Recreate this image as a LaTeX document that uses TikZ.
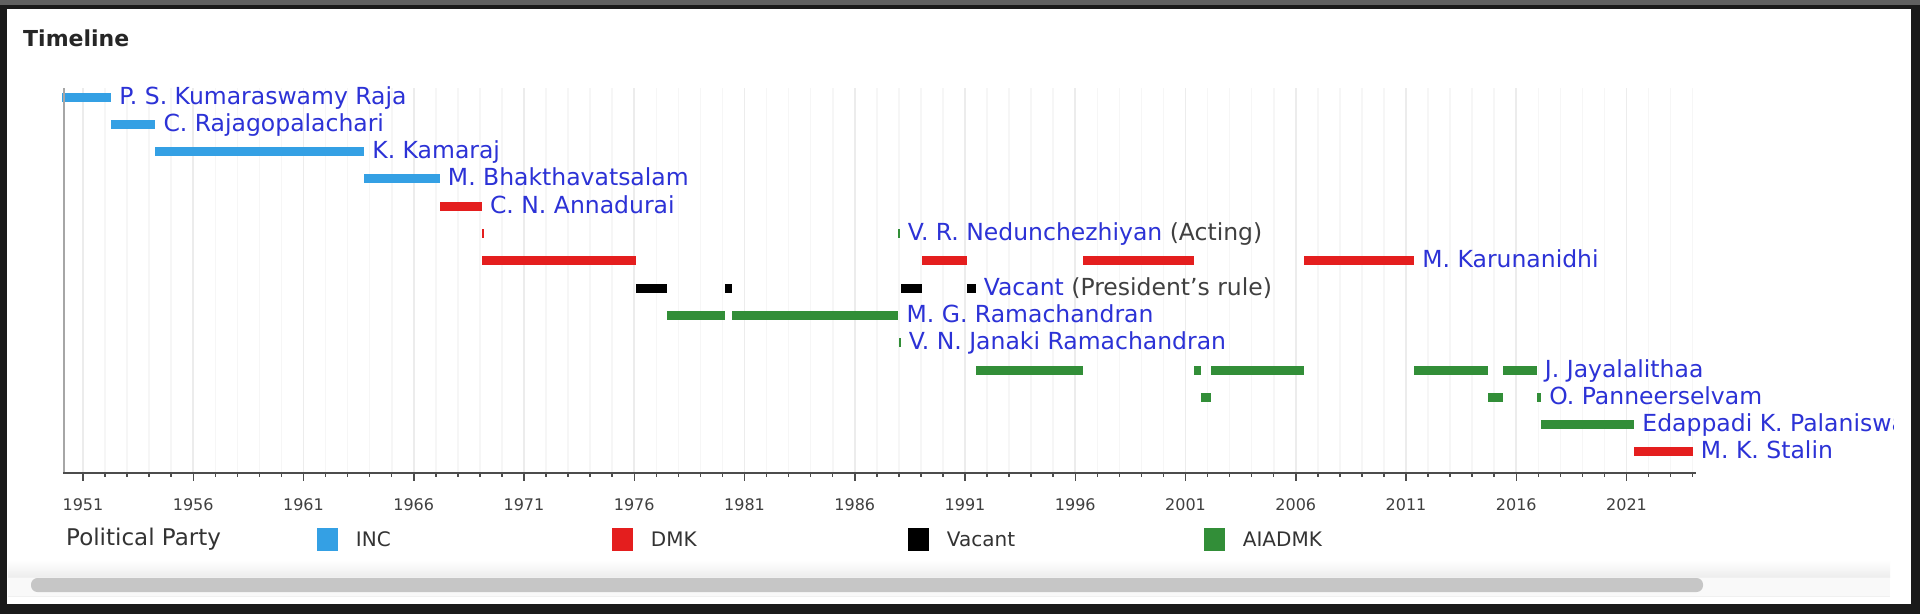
\documentclass[tikz,border=0pt]{standalone}
\usepackage{fontspec}
\setmainfont{DejaVu Sans}
\usetikzlibrary{positioning}
\definecolor{IncBlue}{RGB}{52,160,228}
\definecolor{DmkRed}{RGB}{228,30,30}
\definecolor{AdmkGreen}{RGB}{50,142,56}
\definecolor{NameBlue}{RGB}{44,50,214}
\definecolor{NoteGray}{RGB}{64,64,64}
\definecolor{FrameDark}{RGB}{26,26,26}

% year -> x, row -> y (picture units are pixels, y pointing down)
\newcommand{\yrx}[1]{83+22.05*(#1-1951)}
\newcommand{\rowy}[1]{97+27.3*(#1-1)}

\tikzset{
  name label/.style={anchor=base west, inner sep=0pt, text=NameBlue, font=\fontsize{23.5}{26}\selectfont},
  year label/.style={inner sep=0pt, text=black!75, font=\fontsize{16}{18}\selectfont},
  legend box/.style={minimum width=21pt, minimum height=23pt, inner sep=0pt},
  legend text/.style={inner sep=0pt, text=black!80, font=\fontsize{20}{22}\selectfont},
  minor grid/.style={line width=1.6pt, gray!7},
  major grid/.style={line width=1.6pt, gray!15},
}

\begin{document}
\begin{tikzpicture}[x=1pt, y=-1pt]
	\useasboundingbox (0,0) rectangle (1920,614);
	% frame and panel
	\fill[FrameDark] (0,0) rectangle (1920,614);
	\fill[gray!75!black] (0,0) rectangle (1920,5);
	\fill[white] (7,9) rectangle (1911,604);
	\node[anchor=west, inner sep=0pt, text=black!85, font=\bfseries\fontsize{22}{24}\selectfont] (title) at (23,38) {Timeline};

	% grid
	\foreach \yr in {1951,...,2024}
		\draw[minor grid] ({\yrx{\yr}},88) -- ({\yrx{\yr}},473);
	\foreach \yr in {1951,1956,...,2021}
		\draw[major grid] ({\yrx{\yr}},88) -- ({\yrx{\yr}},473);

	% reigns: row/start/end/party
	\foreach \r/\s/\e/\c in {
		1/1950.07/1952.28/IncBlue, 2/1952.28/1954.28/IncBlue, 3/1954.28/1963.75/IncBlue,
		4/1963.75/1967.18/IncBlue, 5/1967.18/1969.09/DmkRed,
		6/1969.09/1969.19/DmkRed, 6/1987.97/1988.04/AdmkGreen,
		7/1969.09/1976.08/DmkRed, 7/1989.07/1991.08/DmkRed, 7/1996.37/2001.37/DmkRed, 7/2006.37/2011.37/DmkRed,
		8/1976.08/1977.50/black, 8/1980.13/1980.44/black, 8/1988.08/1989.07/black, 8/1991.08/1991.48/black,
		9/1977.50/1980.13/AdmkGreen, 9/1980.44/1987.98/AdmkGreen,
		10/1988.02/1988.08/AdmkGreen,
		11/1991.48/1996.37/AdmkGreen, 11/2001.37/2001.72/AdmkGreen, 11/2002.17/2006.37/AdmkGreen,
		11/2011.37/2014.74/AdmkGreen, 11/2015.39/2016.93/AdmkGreen,
		12/2001.72/2002.17/AdmkGreen, 12/2014.74/2015.39/AdmkGreen, 12/2016.93/2017.13/AdmkGreen,
		13/2017.13/2021.35/AdmkGreen, 14/2021.35/2024.00/DmkRed}
		\fill[\c] ({\yrx{\s}},{\rowy{\r}-4.5}) rectangle ({\yrx{\e}},{\rowy{\r}+4.5});

	% axes
	\draw[line width=2pt, gray!70] (64,88) -- (64,474);
	\draw[line width=2pt, black!70] (63,473) -- (1696,473);
	\foreach \yr in {1951,...,2024}
		\draw[line width=1.5pt, black!70] ({\yrx{\yr}},473) -- ({\yrx{\yr}},477);
	\foreach \yr in {1951,1956,...,2021} {
		\draw[line width=1.5pt, black!70] ({\yrx{\yr}},473) -- ({\yrx{\yr}},481);
		\node[year label] (yr\yr) at ({\yrx{\yr}},505) {\yr};
	}

	% names
	\begin{scope}
		\clip (0,0) rectangle (1893,614);
		\node[name label] (kumaraswamy) at ({\yrx{1952.28}+8},{\rowy{1}+7}) {P. S. Kumaraswamy Raja};
		\node[name label] (rajaji) at ({\yrx{1954.28}+8},{\rowy{2}+7}) {C. Rajagopalachari};
		\node[name label] (kamaraj) at ({\yrx{1963.75}+8},{\rowy{3}+7}) {K. Kamaraj};
		\node[name label] (bhakta) at ({\yrx{1967.18}+8},{\rowy{4}+7}) {M. Bhakthavatsalam};
		\node[name label] (annadurai) at ({\yrx{1969.09}+8},{\rowy{5}+7}) {C. N. Annadurai};
		\node[name label] (nedu) at ({\yrx{1988.04}+8},{\rowy{6}+7}) {V. R. Nedunchezhiyan \textcolor{NoteGray}{(Acting)}};
		\node[name label] (karuna) at ({\yrx{2011.37}+8},{\rowy{7}+7}) {M. Karunanidhi};
		\node[name label] (vacant) at ({\yrx{1991.48}+8},{\rowy{8}+7}) {Vacant \textcolor{NoteGray}{(President's rule)}};
		\node[name label] (mgr) at ({\yrx{1987.98}+8},{\rowy{9}+7}) {M. G. Ramachandran};
		\node[name label] (janaki) at ({\yrx{1988.08}+8},{\rowy{10}+7}) {V. N. Janaki Ramachandran};
		\node[name label] (jaya) at ({\yrx{2016.93}+8},{\rowy{11}+7}) {J. Jayalalithaa};
		\node[name label] (ops) at ({\yrx{2017.13}+8},{\rowy{12}+7}) {O. Panneerselvam};
		\node[name label] (eps) at ({\yrx{2021.35}+8},{\rowy{13}+7}) {Edappadi K. Palaniswami};
		\node[name label] (stalin) at ({\yrx{2024.00}+8},{\rowy{14}+7}) {M. K. Stalin};
	\end{scope}

	% legend
	\node[legend text, anchor=west, font=\fontsize{23}{25}\selectfont] (party) at (66,539) {Political Party};
	\node[legend box, fill=IncBlue] (incbox) at (327,539) {};
	\node[legend text, right=18pt of incbox] (inc) {INC};
	\node[legend box, fill=DmkRed] (dmkbox) at (622,539) {};
	\node[legend text, right=18pt of dmkbox] (dmk) {DMK};
	\node[legend box, fill=black] (vacbox) at (918,539) {};
	\node[legend text, right=18pt of vacbox] (vac) {Vacant};
	\node[legend box, fill=AdmkGreen] (admkbox) at (1214,539) {};
	\node[legend text, right=18pt of admkbox] (admk) {AIADMK};

	% scroll bar
	\shade[top color=white, bottom color=gray!14] (8,560) rectangle (1890,577);
	\fill[gray!5] (8,577) rectangle (1890,596);
	\draw[gray!12, line width=0.8pt] (8,577) -- (1890,577) (8,596) -- (1890,596);
	\fill[gray!45, rounded corners=6.5pt] (31,578) rectangle (1703,592);
\end{tikzpicture}
\end{document}
